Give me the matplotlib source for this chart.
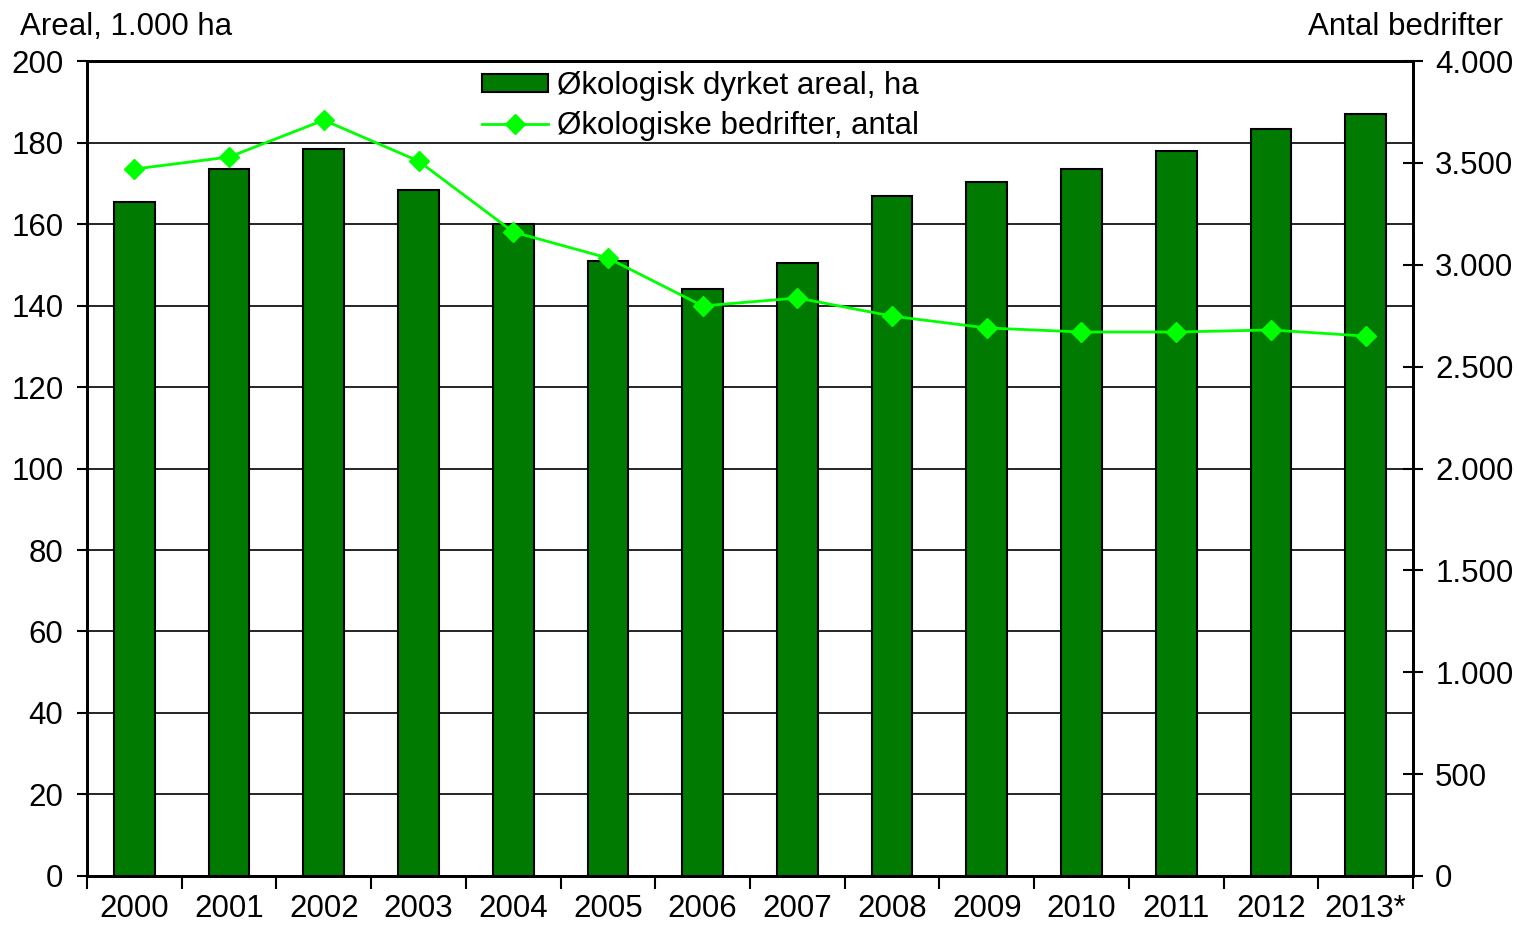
import numpy as np
import matplotlib
matplotlib.use("Agg")
import matplotlib.pyplot as plt

years = ["2000", "2001", "2002", "2003", "2004", "2005", "2006",
         "2007", "2008", "2009", "2010", "2011", "2012", "2013*"]
areal = [165.4, 173.5, 178.4, 168.3, 160.0, 150.9, 144.0,
         150.4, 166.9, 170.3, 173.5, 177.9, 183.3, 187.0]
bedrifter = [3470, 3529, 3710, 3509, 3161, 3033, 2798,
             2837, 2748, 2690, 2670, 2670, 2680, 2650]

plt.rcParams["font.family"] = ["Liberation Sans", "DejaVu Sans"]
fs = 22.5

fig = plt.figure(figsize=(15.17, 9.25), dpi=100)
ax = fig.add_axes([0.0574, 0.053, 0.874, 0.881])
ax2 = ax.twinx()

x = np.arange(len(years))
bars = ax.bar(x, areal, width=0.43, color="#007A00", edgecolor="black",
              linewidth=1.5, zorder=3, label="Økologisk dyrket areal, ha")
ax.set_xlim(-0.5, len(years) - 0.5)
ax.set_ylim(0, 200)
ax.set_yticks(range(0, 201, 20))
ax.yaxis.grid(True, color="black", linewidth=1.2, zorder=0)
ax.set_axisbelow(True)

# ticks between categories, labels at centers
ax.set_xticks(np.arange(-0.5, len(years), 1.0))
ax.set_xticklabels([])
ax.set_xticks(x, minor=True)
ax.set_xticklabels(years, minor=True)
ax.tick_params(axis="x", which="major", direction="out", length=9, width=1.5)
ax.tick_params(axis="x", which="minor", length=0, pad=13, labelsize=fs)
ax.tick_params(axis="y", direction="out", length=7, width=1.5, pad=10,
               labelsize=fs)

line, = ax2.plot(x, bedrifter, color="#00FF00", linewidth=2, marker="D",
                 markersize=10, zorder=4, label="Økologiske bedrifter, antal")
ax2.set_ylim(0, 4000)
ax2.set_yticks(range(0, 4001, 500))
ax2.set_yticklabels([f"{v:,}".replace(",", ".") for v in range(0, 4001, 500)])
ax2.tick_params(axis="y", direction="inout", length=14, width=1.5, pad=9,
                labelsize=fs)

for a in (ax, ax2):
    for s in a.spines.values():
        s.set_linewidth(2)
        s.set_color("black")

ax.legend([bars, line], [bars.get_label(), line.get_label()],
          loc="upper left", bbox_to_anchor=(0.277, 1.022), frameon=False,
          fontsize=fs, handlelength=2.1, handleheight=0.5,
          handletextpad=0.3, labelspacing=0.3)

fig.text(0.013, 0.971, "Areal, 1.000 ha", fontsize=fs, ha="left", va="center")
fig.text(0.991, 0.971, "Antal bedrifter", fontsize=fs, ha="right", va="center")

plt.savefig("out.png", dpi=100)
